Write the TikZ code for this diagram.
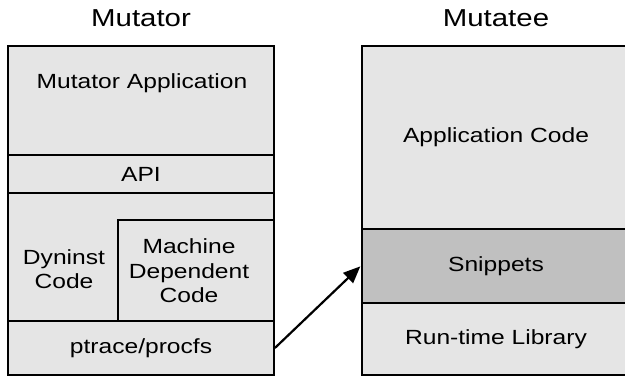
\documentclass[tikz,border=0pt]{standalone}
\usepackage{fontspec}
\setmainfont[FakeStretch=1.2]{Liberation Sans}
\usepackage{tikz}
\usetikzlibrary{arrows.meta,positioning}
\definecolor{LayerGray}{RGB}{229,229,229}
\definecolor{SnipGray}{RGB}{192,192,192}

\begin{document}
\begin{tikzpicture}[x=1pt,y=-1pt,
  layer/.style={draw, line width=1.8pt, fill=LayerGray, inner sep=0pt, align=center, font=\fontsize{20.5}{24.5}\selectfont},
  lbl/.style={align=center, font=\fontsize{20.5}{24.5}\selectfont, inner sep=0pt}]
\useasboundingbox (0,0) rectangle (625,377);
\clip (0,0) rectangle (625,377);
% mutator side
\node[font=\fontsize{24.5}{29}\selectfont] (mtor) at (141,18) {Mutator};
\node[layer, minimum width=266pt, minimum height=109pt] (app) at (141,100.5) {};
\node[lbl] (apptxt) at (142,83) {Mutator Application};
\node[layer, minimum width=266pt, minimum height=38pt] (api) at (141,174) {API};
\node[layer, minimum width=266pt, minimum height=128pt] (dyn) at (141,257) {};
\node[lbl] (dyntxt) at (64,269) {Dyninst\\Code};
\node[layer, minimum width=156pt, minimum height=101pt] (mdc) at (196,270.5) {};
\node[lbl] (mdctxt) at (189,271) {Machine\\Dependent\\Code};
\node[layer, minimum width=266pt, minimum height=54pt] (ptr) at (141,348) {ptrace/procfs};
% mutatee side
\node[font=\fontsize{24.5}{29}\selectfont] (mtee) at (496,18) {Mutatee};
\node[layer, minimum width=268pt, minimum height=183pt] (acode) at (496,137.5) {Application Code};
\node[layer, minimum width=268pt, minimum height=72pt] (rtl) at (496,339) {Run-time Library};
\node[layer, fill=SnipGray, line width=2.6pt, minimum width=268pt, minimum height=74pt] (snip) at (496,266) {Snippets};
% instrumentation
\draw[-{Triangle[length=17pt,width=14pt]}, line width=2.2pt, shorten >=0.5pt] (ptr.east) -- (snip.west);
\end{tikzpicture}
\end{document}
